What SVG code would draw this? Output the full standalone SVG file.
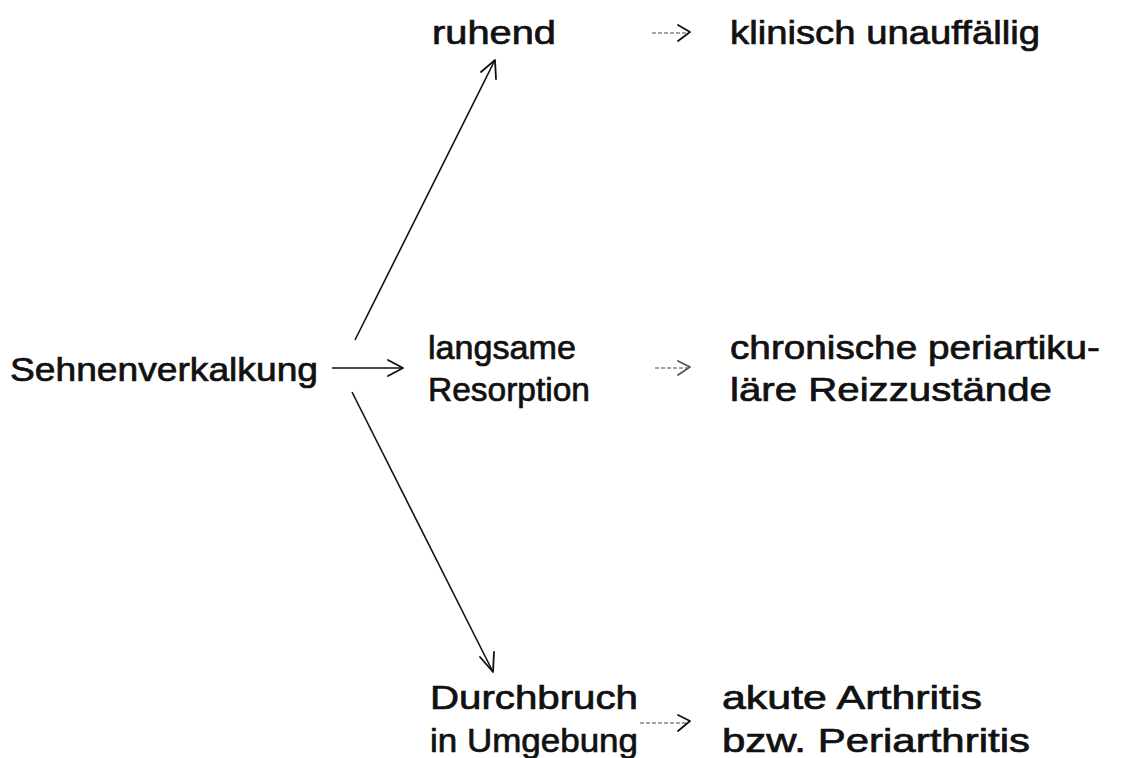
<svg xmlns="http://www.w3.org/2000/svg" width="1138" height="758" viewBox="0 0 1138 758">
<defs>
<style>
text{font-family:"Liberation Sans",Arial,sans-serif;font-size:33px;fill:#111;stroke:#111;stroke-width:0.7;}
.ln{stroke:#111;stroke-width:1.6;fill:none;}
.dl{stroke:#888;stroke-width:1.6;fill:none;stroke-dasharray:4 2;}
.hd{stroke:#111;stroke-width:1.8;fill:none;stroke-linecap:round;stroke-linejoin:round;}
.hg{stroke:#555;stroke-width:1.8;fill:none;stroke-linecap:round;stroke-linejoin:round;}
</style>
</defs>
<rect width="1138" height="758" fill="#fff"/>
<g id="n-sehnen"><text x="10" y="381" textLength="308" lengthAdjust="spacingAndGlyphs">Sehnenverkalkung</text></g>
<g id="n-ruhend"><text x="432" y="44" textLength="124" lengthAdjust="spacingAndGlyphs">ruhend</text></g>
<g id="n-klinisch"><text x="730" y="44" textLength="310" lengthAdjust="spacingAndGlyphs">klinisch unauffällig</text></g>
<g id="n-langsam"><text x="428" y="359" textLength="148" lengthAdjust="spacingAndGlyphs">langsame</text><text x="428" y="401" textLength="162" lengthAdjust="spacingAndGlyphs">Resorption</text></g>
<g id="n-chron"><text x="730" y="359" textLength="370" lengthAdjust="spacingAndGlyphs">chronische periartiku-</text><text x="730" y="401" textLength="322" lengthAdjust="spacingAndGlyphs">läre Reizzustände</text></g>
<g id="n-durch"><text x="430" y="709" textLength="208" lengthAdjust="spacingAndGlyphs">Durchbruch</text><text x="430" y="752" textLength="208" lengthAdjust="spacingAndGlyphs">in Umgebung</text></g>
<g id="n-akut"><text x="722" y="709" textLength="260" lengthAdjust="spacingAndGlyphs">akute Arthritis</text><text x="722" y="752" textLength="308" lengthAdjust="spacingAndGlyphs">bzw. Periarthritis</text></g>
<g id="connectors">
<line class="ln" x1="355" y1="340" x2="495" y2="60"/>
<polyline class="hd" points="481,72 495,60 496,79"/>
<line class="ln" x1="352" y1="392" x2="493" y2="672"/>
<polyline class="hd" points="480,657 493,672 494,652"/>
<line class="ln" x1="332" y1="368" x2="402" y2="368"/>
<polyline class="hd" points="388,360 403,368 388,376"/>
<line class="dl" x1="652" y1="33" x2="688" y2="33"/>
<polyline class="hd" points="678,25 690,32 678,41"/>
<line class="dl" x1="655" y1="368" x2="688" y2="368"/>
<polyline class="hg" points="678,361 690,367 678,375"/>
<line class="dl" x1="640" y1="723" x2="688" y2="723"/>
<polyline class="hd" points="678,715 690,721 678,731"/>
</g>
</svg>
